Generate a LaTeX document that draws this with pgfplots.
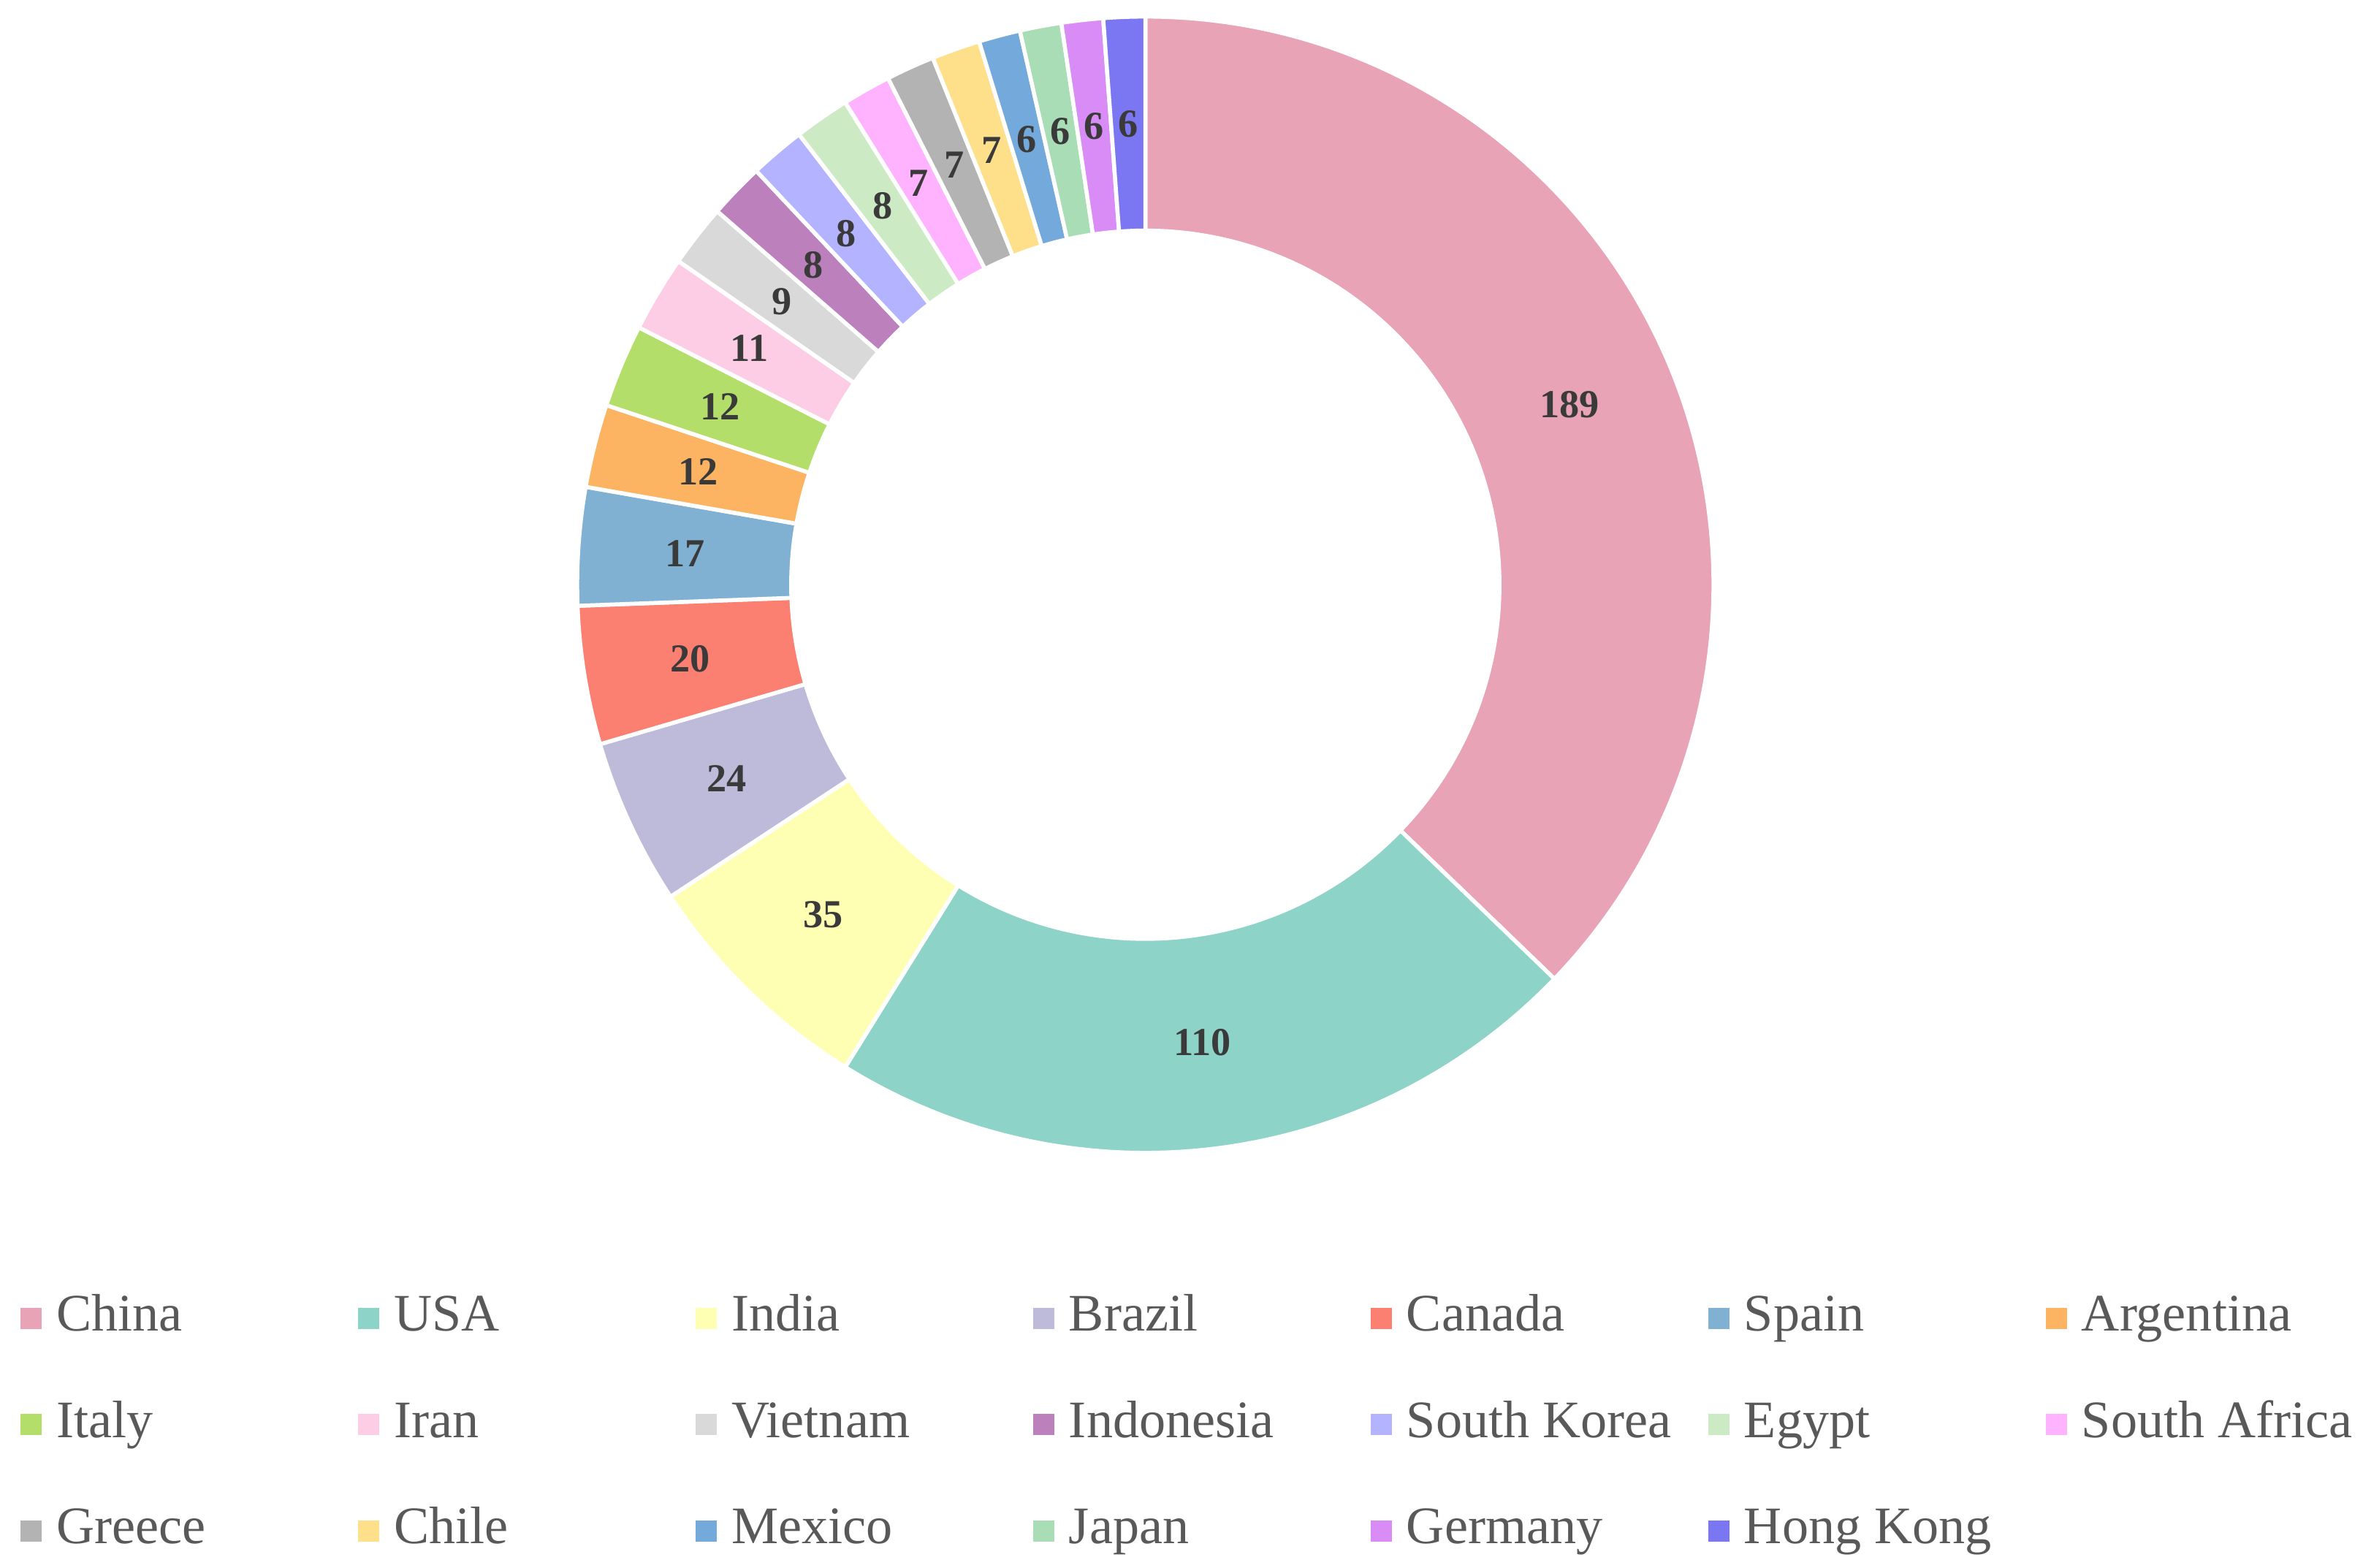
\documentclass[border=0pt]{standalone}
\usepackage{fontspec}
\setmainfont{Liberation Serif}
\usepackage{pgfplots}
\usepackage{pgfplotstable}
\pgfplotsset{compat=1.18}

\definecolor{c0}{HTML}{E8A3B6}
\definecolor{c1}{HTML}{8DD3C7}
\definecolor{c2}{HTML}{FFFFB3}
\definecolor{c3}{HTML}{BEBADA}
\definecolor{c4}{HTML}{FB8072}
\definecolor{c5}{HTML}{80B1D3}
\definecolor{c6}{HTML}{FDB462}
\definecolor{c7}{HTML}{B3DE69}
\definecolor{c8}{HTML}{FCCDE5}
\definecolor{c9}{HTML}{D9D9D9}
\definecolor{c10}{HTML}{BC80BD}
\definecolor{c11}{HTML}{B3B3FF}
\definecolor{c12}{HTML}{CCEBC5}
\definecolor{c13}{HTML}{FFB3FF}
\definecolor{c14}{HTML}{B3B3B3}
\definecolor{c15}{HTML}{FFE08A}
\definecolor{c16}{HTML}{74A9DB}
\definecolor{c17}{HTML}{A8DDB5}
\definecolor{c18}{HTML}{D98CF5}
\definecolor{c19}{HTML}{7B77F2}
\definecolor{labtext}{HTML}{3A3A3A}
\definecolor{legtext}{HTML}{595959}

\pgfplotstableread[col sep=comma]{
name,value
China,189
USA,110
India,35
Brazil,24
Canada,20
Spain,17
Argentina,12
Italy,12
Iran,11
Vietnam,9
Indonesia,8
South Korea,8
Egypt,8
South Africa,7
Greece,7
Chile,7
Mexico,6
Japan,6
Germany,6
Hong Kong,6
}\datatable

\begin{document}
\begin{tikzpicture}
% total of all slices
\pgfmathsetmacro\total{0}
\pgfplotsforeachungrouped \i in {0,...,19}{%
  \pgfplotstablegetelem{\i}{value}\of\datatable
  \pgfmathsetmacro\total{\total+\pgfplotsretval}%
}
\begin{axis}[
  width=470.4pt, height=312pt, scale only axis,
  xmin=-760, xmax=808, ymin=-652, ymax=388,
  hide axis, clip=false,
  legend columns=7,
  legend image code/.code={\fill[#1] (0pt,-2.1pt) rectangle (4.2pt,2.1pt);},
  legend style={at={(0.0083,0.174)}, anchor=north west, draw=none, fill=none,
    inner sep=0pt, column sep=2.1pt, row sep=12.2pt,
    font=\fontsize{10.5}{12}\selectfont, text=legtext,
    nodes={inner sep=0pt, text height=7pt, text depth=2pt}},
]
\pgfmathsetmacro\cum{0}
\pgfplotsforeachungrouped \i in {0,...,19}{%
  \pgfplotstablegetelem{\i}{value}\of\datatable \let\val\pgfplotsretval
  \pgfplotstablegetelem{\i}{name}\of\datatable \let\name\pgfplotsretval
  \pgfmathsetmacro\aS{90-\cum/\total*360}%
  \pgfmathsetmacro\aE{90-(\cum+\val)/\total*360}%
  \pgfmathsetmacro\aM{(\aS+\aE)/2}%
  \pgfmathsetmacro\xa{377*cos(\aS)}\pgfmathsetmacro\ya{377*sin(\aS)}%
  \pgfmathsetmacro\xb{235*cos(\aE)}\pgfmathsetmacro\yb{235*sin(\aE)}%
  \pgfmathsetmacro\xm{306*cos(\aM)}\pgfmathsetmacro\ym{306*sin(\aM)}%
  \edef\cmd{%
    \noexpand\fill[c\i, draw=white, line width=0.8pt, line join=miter]
      (axis cs:\xa,\ya) arc[start angle=\aS, end angle=\aE, radius=113.1pt]
      -- (axis cs:\xb,\yb) arc[start angle=\aE, end angle=\aS, radius=70.5pt] -- cycle;
    \noexpand\node[font=\noexpand\fontsize{7.9}{9}\noexpand\selectfont\noexpand\bfseries,
      text=labtext] at (axis cs:\xm,\ym) {\val};
    \noexpand\addlegendimage{fill=c\i, draw=none}
    \noexpand\addlegendentry{\noexpand\makebox[58.8pt][l]{\noexpand\hspace{0.8pt}\name}}
  }\cmd
  \pgfmathsetmacro\cum{\cum+\val}%
}
\end{axis}
\pgfresetboundingbox
\path[use as bounding box] (current axis.south west) rectangle (current axis.north east);
\end{tikzpicture}
\end{document}
